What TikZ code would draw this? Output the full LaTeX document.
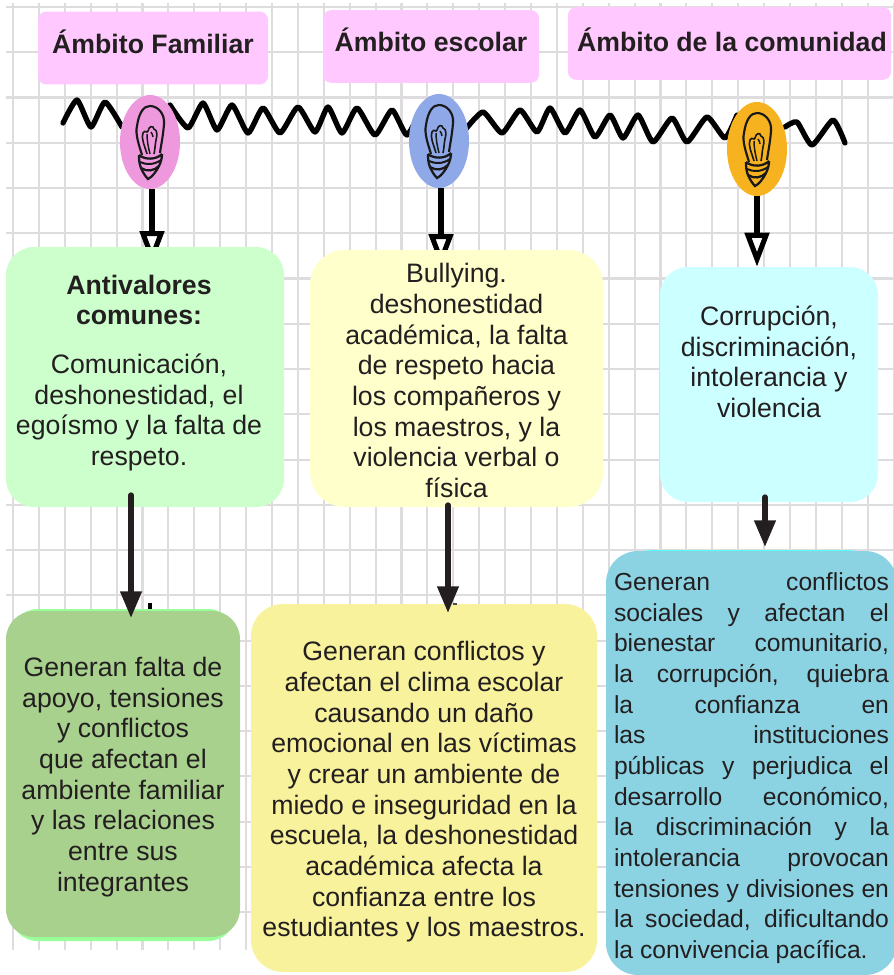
\documentclass[tikz,border=0pt]{standalone}
\usepackage{fontspec}
\setmainfont{Liberation Sans}
\usetikzlibrary{arrows.meta,shapes.geometric}
\tolerance=10000
\hbadness=10000
\newcommand{\holgura}[1]{\rule{0pt}{#1}}
\definecolor{tinta}{HTML}{231F20}
\definecolor{rejillagris}{HTML}{DEDCDE}
\definecolor{rosa}{HTML}{FFC9FF}
\definecolor{verdeclaro}{HTML}{CCFFCC}
\definecolor{amarilloclaro}{HTML}{FFFFCC}
\definecolor{cianclaro}{HTML}{CCFFFF}
\definecolor{verdeoliva}{HTML}{A9D18E}
\definecolor{verdevivo}{HTML}{99FF99}
\definecolor{amarillo}{HTML}{F8F29C}
\definecolor{azul}{HTML}{8BD3E2}
\definecolor{cianvivo}{HTML}{55FFFF}
\definecolor{focorosa}{HTML}{EE99DD}
\definecolor{focoazul}{HTML}{8FA8E8}
\definecolor{econaranja}{HTML}{F7B21F}
\tikzset{
rejilla/.style={rejillagris, line width=1.6pt},
onda/.style={black, line width=4pt, line join=round, line cap=round},
foco/.style={ellipse, minimum width=45pt, minimum height=70.5pt, inner sep=0pt},
tallo/.style={black, line width=3.8pt, -{Triangle[open,width=18pt,length=25.5pt]}},
titulo/.style={fill=rosa, text=tinta, rounded corners=6pt, inner sep=0pt, minimum height=54.5pt, font=\fontsize{20}{24}\selectfont\bfseries, text depth=10pt},
caja/.style={text=tinta, inner sep=0pt, align=center, font=\fontsize{20}{23}\selectfont},
flecha/.style={tinta, line width=4pt, line cap=round, -{Triangle[width=15.5pt,length=20pt]}},
bombilla/.pic={
\draw[line width=1.6pt, black!90] (-8,13) .. controls (-11,3) and (-15,-8) .. (-13,-16) .. controls (-11,-30) and (-6,-36) .. (0,-36) .. controls (8,-36) and (15,-28) .. (14,-18) .. controls (13,-5) and (11,3) .. (10,11);
\draw[line width=1.2pt, black!90] (-3,12) .. controls (-6,2) and (-9,-4) .. (-7,-9) .. controls (-5,-13) and (-3,-8) .. (-2,-11) .. controls (-1,-16) and (3,-17) .. (4,-13) .. controls (8,-12) and (7,-5) .. (6,-2) .. controls (5,3) and (5,8) .. (4,12);
\draw[line width=1.1pt, black!90] (-3,-8) .. controls (-3,-2) and (-2,4) .. (0,12) (1,-10) .. controls (2,-8) and (3,-7) .. (3,-5);
\draw[line width=1.7pt, black!90] (-11,13) .. controls (-5,18) and (6,18) .. (12,12) (-11,13) .. controls (-11,17) and (-11,21) .. (-9,26) .. controls (-3,30) and (4,29) .. (9,24) .. controls (11,20) and (12,16) .. (12,12);
\draw[line width=1.5pt, black!90] (-10,20) .. controls (-4,23) and (4,23) .. (11,18);
\draw[line width=1.7pt, black!90] (-9,26) .. controls (-7,31) and (-4,35) .. (-2,37) .. controls (2,35) and (6,30) .. (9,24);
}
}
\begin{document}
\begin{tikzpicture}[x=.75pt,y=-.75pt]
\useasboundingbox (0,0) rectangle (893,975);
\foreach \n in {0,...,34} {\draw[rejilla] ({13+25.9*\n},3)--({13+25.9*\n},950);}
\foreach \n in {0,...,20} {\draw[rejilla] (6,{7+45.26*\n})--(893,{7+45.26*\n});}
\draw[onda] plot[smooth, tension=.35] coordinates {(63,123) (77,100) (91,127) (105,102) (122,127)};
\draw[onda] plot[smooth, tension=.35] coordinates {(170,105) (188,128) (203,103) (217,130) (232,105) (248,133) (263,108) (280,133) (298,107) (315,132) (328,107) (342,133) (357,108) (375,135) (392,110) (407,135) (422,107)};
\draw[onda] plot[smooth, tension=.35] coordinates {(465,130) (483,112) (502,133) (520,110) (537,132) (550,108) (565,133) (580,110) (595,137) (610,115) (623,138) (638,115) (653,142) (672,118) (687,142) (707,117) (725,138) (737,115)};
\draw[onda] plot[smooth, tension=.35] coordinates {(785,127) (797,122) (812,145) (833,120) (845,143)};
\node[foco, fill=focorosa] (foco1) at (150,142) {};
\node[foco, fill=focoazul] (foco2) at (439,141) {};
\node[foco, fill=econaranja] (foco3) at (757,149) {};
\pic at (foco1) {bombilla};
\pic at (foco2) {bombilla};
\pic at (foco3) {bombilla};
\coordinate (punta1) at (152,265);
\coordinate (punta2) at (441,268);
\node[caja, fill=cianclaro, minimum width=163.5pt, minimum height=176.25pt, rounded corners=21pt, text depth=34pt] (rasgo3) at (769,384.5) {Corrupción,\\discriminación,\\intolerancia y\\violencia};
\draw[tallo] (foco1.south -| punta1)--(punta1);
\draw[tallo] (foco2.south -| punta2)--(punta2);
\draw[tallo] (foco3.south)--(rasgo3.north -| foco3.south);
\node[titulo, minimum width=172.5pt] (tit1) at (153,48) {Ámbito Familiar};
\node[titulo, minimum width=162pt] (tit2) at (431,46.5) {Ámbito escolar};
\node[titulo, minimum width=242.25pt, text depth=6pt] (tit3) at (729.5,43.5) {\hspace*{3.8pt}Ámbito de la comunidad};
\node[fill=verdeclaro, minimum width=208.5pt, minimum height=195pt, rounded corners=21pt] (rasgo1) at (145,377) {};
\node[caja] (texto1) at (139,373) {\textbf{Antivalores}\\\textbf{comunes:}\\[13.5pt]Comunicación,\\deshonestidad, el\\egoísmo y la falta de\\respeto.};
\node[caja, fill=amarilloclaro, minimum width=219.75pt, minimum height=192.75pt, rounded corners=26pt] (rasgo2) at (456.5,378.5) {\holgura{17.5pt}Bullying.\\deshonestidad\\académica, la falta\\de respeto hacia\\los compañeros y\\los maestros, y la\\violencia verbal o\\física};
\node[fill=verdevivo, minimum width=169.5pt, minimum height=249pt, rounded corners=21pt] (fondo1) at (123,775) {};
\node[caja, fill=verdeoliva, minimum width=175.5pt, minimum height=244.5pt, rounded corners=21pt] (efecto1) at (123,774) {\holgura{19pt}Generan falta de\\apoyo, tensiones\\y conflictos\\que afectan el\\ambiente familiar\\y las relaciones\\entre sus\\integrantes};
\node[caja, fill=amarillo, minimum width=259.5pt, minimum height=276pt, rounded corners=24pt] (efecto2) at (424,788) {\holgura{20.6pt}Generan conflictos y\\afectan el clima escolar\\causando un daño\\emocional en las víctimas\\y crear un ambiente de\\miedo e inseguridad en la\\escuela, la deshonestidad\\académica afecta la\\confianza entre los\\estudiantes y los maestros.};
\node[fill=cianvivo, minimum width=195pt, minimum height=60pt, rounded corners=24pt] (fondo3) at (750,590) {};
\node[caja, fill=azul, minimum width=218.25pt, minimum height=318pt, rounded corners=24pt, text width=206.25pt, align=justify, font=\fontsize{18.5}{23}\selectfont] (efecto3) at (751.5,763) {\holgura{21pt}Generan conflictos\linebreak sociales y afectan el\linebreak bienestar comunitario,\linebreak la corrupción, quiebra\linebreak la confianza en\linebreak las instituciones\linebreak públicas y perjudica el\linebreak desarrollo económico,\linebreak la discriminación y la\linebreak intolerancia provocan\linebreak tensiones y divisiones en\linebreak la sociedad, dificultando\linebreak la convivencia pacífica.};
\coordinate (salida1) at (131,495);
\coordinate (llegada1) at (131,618);
\coordinate (salida2) at (448,505);
\coordinate (llegada2) at (448,613);
\coordinate (salida3) at (765,497);
\coordinate (llegada3) at (765,547);
\draw[flecha] (salida1)--(llegada1);
\draw[flecha] (salida2)--(llegada2);
\draw[flecha] (salida3)--(llegada3);
\node[fill=black, minimum width=3.5pt, minimum height=4.5pt, inner sep=0pt] (marca1) at (150,606) {};
\node[fill=black!70, minimum width=3.5pt, minimum height=1.5pt, inner sep=0pt] (marca2) at (455,604) {};
\end{tikzpicture}
\end{document}
